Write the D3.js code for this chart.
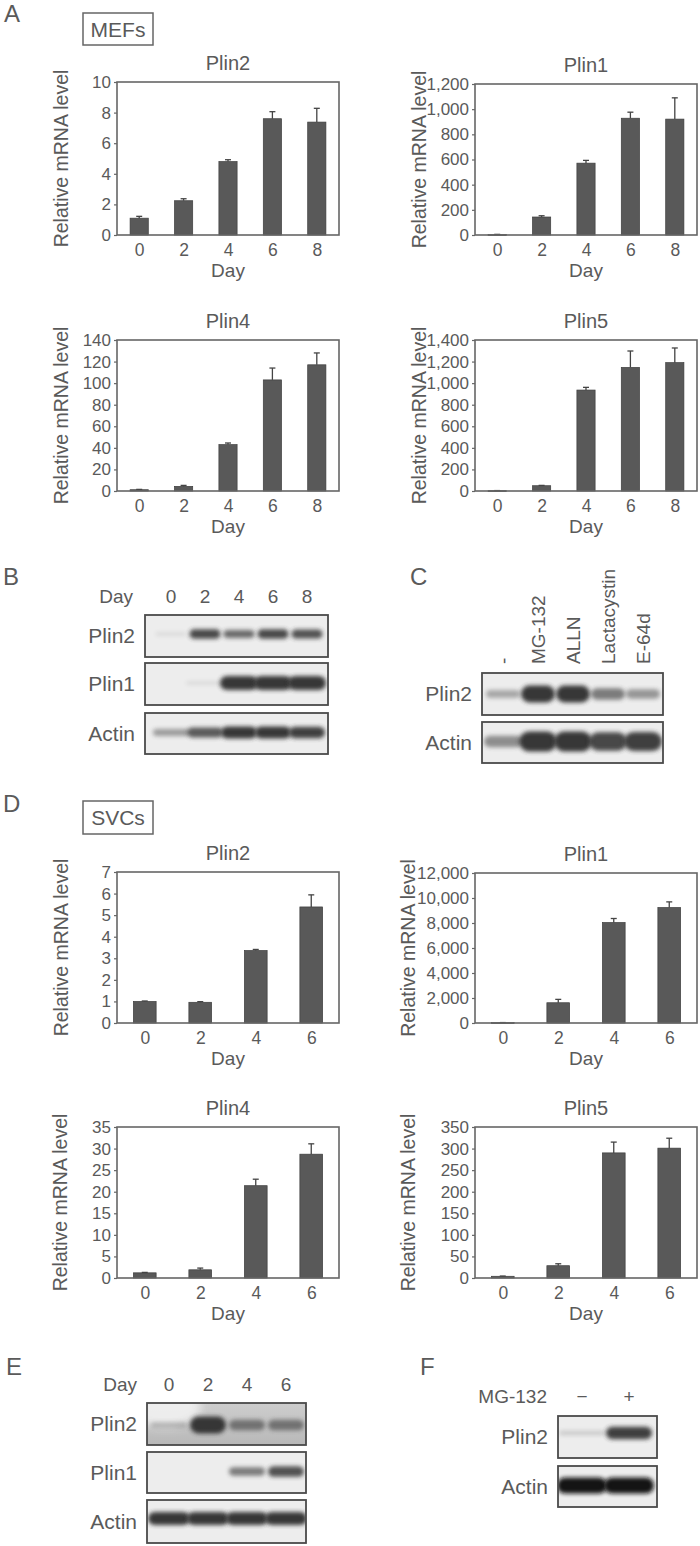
<!DOCTYPE html>
<html><head><meta charset="utf-8">
<script src="https://cdn.jsdelivr.net/npm/d3@7"></script>
<style>
body{margin:0;background:#fff}
svg{display:block}
text{font-family:"Liberation Sans",Arial,Helvetica,sans-serif;fill:#5a5a5a}
</style>
</head><body>
<svg id="fig" width="700" height="1546"></svg>
<script>
// ---------- DATA ----------
const mefDays = ["0","2","4","6","8"];
const svcDays = ["0","2","4","6"];

const mefPlin2 = [1.1, 2.24, 4.8, 7.6, 7.38];
const mefPlin2Err = [0.12, 0.13, 0.12, 0.46, 0.9];
const mefPlin1 = [3, 143, 571, 928, 921];
const mefPlin1Err = [2, 10, 22, 48, 169];
const mefPlin4 = [1.2, 4.3, 43, 103, 117];
const mefPlin4Err = [0.3, 0.9, 1.5, 11, 11];
const mefPlin5 = [3, 49, 936, 1146, 1190];
const mefPlin5Err = [1, 3, 25, 152, 136];

const svcPlin2 = [1.0, 0.96, 3.36, 5.38];
const svcPlin2Err = [0.02, 0.03, 0.05, 0.56];
const svcPlin1 = [30, 1620, 8040, 9240];
const svcPlin1Err = [5, 270, 320, 450];
const svcPlin4 = [1.2, 1.9, 21.4, 28.7];
const svcPlin4Err = [0.1, 0.4, 1.5, 2.4];
const svcPlin5 = [4, 28.5, 290, 301];
const svcPlin5Err = [0.5, 4.5, 25, 23];

const ticksMefPlin2 = [0,2,4,6,8,10];
const ticksMefPlin1 = [0,200,400,600,800,1000,1200];
const ticksMefPlin4 = [0,20,40,60,80,100,120,140];
const ticksMefPlin5 = [0,200,400,600,800,1000,1200,1400];
const ticksSvcPlin2 = [0,1,2,3,4,5,6,7];
const ticksSvcPlin1 = [0,2000,4000,6000,8000,10000,12000];
const ticksSvcPlin4 = [0,5,10,15,20,25,30,35];
const ticksSvcPlin5 = [0,50,100,150,200,250,300,350];

// Western blot band intensities (0 = none, 1 = strongest)
const blotBLanes = ["0","2","4","6","8"];
const blotBPlin2 = [0.06, 0.9, 0.7, 0.9, 0.85];
const blotBPlin1 = [0, 0.06, 1, 1, 1];
const blotBActin = [0.42, 0.8, 1, 1, 0.95];

const blotCLanes = ["-","MG-132","ALLN","Lactacystin","E-64d"];
const blotCPlin2 = [0.35, 1, 1, 0.6, 0.45];
const blotCActin = [0.5, 1, 1, 0.9, 0.95];

const blotELanes = ["0","2","4","6"];
const blotEPlin2 = [0.2, 1, 0.55, 0.55];
const blotEPlin1 = [0, 0, 0.6, 0.85];
const blotEActin = [1, 1, 1, 1];

const blotFLanes = ["\u2212","+"];
const blotFPlin2 = [0.15, 0.95];
const blotFActin = [1, 1];

// ---------- DRAWING ----------
const svg = d3.select("#fig");
const defs = svg.append("defs");
defs.append("filter").attr("id","blur").attr("x","-30%").attr("y","-100%").attr("width","160%").attr("height","300%")
  .append("feGaussianBlur").attr("stdDeviation",2);
defs.append("filter").attr("id","blurBig").attr("x","-50%").attr("y","-100%").attr("width","200%").attr("height","300%")
  .append("feGaussianBlur").attr("stdDeviation",5);

function panelLetter(t, x, y){
  svg.append("text").attr("x",x).attr("y",y).attr("font-size",24).text(t);
}
function cellBox(t, x, y, w, h, by){
  svg.append("rect").attr("x",x).attr("y",y).attr("width",w).attr("height",h)
    .attr("fill","none").attr("stroke","#666").attr("stroke-width",1.5);
  svg.append("text").attr("x",x+w/2).attr("y",by).attr("text-anchor","middle").attr("font-size",21).text(t);
}

function barChart(c){
  const g = svg.append("g");
  const x = d3.scalePoint().domain(c.days).range([c.left, c.left+c.w]).padding(0.5);
  const y = d3.scaleLinear().domain([0, c.ticks[c.ticks.length-1]]).range([c.bottom, c.top]);
  const bw = x.step()*0.41;
  const data = c.days.map((d,i)=>({d, v:c.values[i], e:c.errors[i]}));

  g.selectAll("rect.bar").data(data).join("rect").attr("class","bar")
    .attr("x", d=>x(d.d)-bw/2).attr("y", d=>y(d.v))
    .attr("width", bw).attr("height", d=>Math.max(0.8, y(0)-y(d.v)))
    .attr("fill","#595959").attr("stroke","#3e3e3e").attr("stroke-width",0.7);

  g.selectAll("line.err").data(data).join("line").attr("class","err")
    .attr("x1", d=>x(d.d)).attr("x2", d=>x(d.d))
    .attr("y1", d=>y(d.v)).attr("y2", d=>y(d.v+d.e))
    .attr("stroke","#444").attr("stroke-width",1.3);
  g.selectAll("line.cap").data(data).join("line").attr("class","cap")
    .attr("x1", d=>x(d.d)-3).attr("x2", d=>x(d.d)+3)
    .attr("y1", d=>y(d.v+d.e)).attr("y2", d=>y(d.v+d.e))
    .attr("stroke","#444").attr("stroke-width",1.3);

  const ya = g.append("g").attr("transform",`translate(${c.left},0)`)
    .call(d3.axisLeft(y).tickValues(c.ticks).tickSize(3).tickPadding(3).tickFormat(d3.format(",")));
  ya.select(".domain").remove();
  ya.selectAll("line").attr("stroke","#666").attr("stroke-width",1.2);
  ya.selectAll("text").attr("font-size",17).attr("fill","#5a5a5a").attr("font-family",null);

  const xa = g.append("g").attr("transform",`translate(0,${c.bottom})`)
    .call(d3.axisBottom(x).tickSize(0).tickPadding(9));
  xa.select(".domain").remove();
  xa.selectAll("text").attr("font-size",17.5).attr("fill","#5a5a5a").attr("font-family",null);

  g.append("rect").attr("x",c.left).attr("y",c.top).attr("width",c.w).attr("height",c.bottom-c.top)
    .attr("fill","none").attr("stroke","#666").attr("stroke-width",1.6);

  g.append("text").attr("x",c.left+c.w/2).attr("y",c.top-12).attr("text-anchor","middle")
    .attr("font-size",20).text(c.title);
  g.append("text").attr("x",c.left+c.w/2).attr("y",c.bottom+42).attr("text-anchor","middle")
    .attr("font-size",19).text("Day");
  g.append("text").attr("transform",`translate(${c.left-(c.labelOff||49)},${(c.top+c.bottom)/2}) rotate(-90)`)
    .attr("text-anchor","middle").attr("font-size",19.5).text("Relative mRNA level");
}

function blot(c){
  const g = svg.append("g");
  const x = d3.scalePoint().domain(c.lanes).range(c.laneRange);
  c.rows.forEach(r=>{
    const cy = (r.top+r.bottom)/2 + (r.dy||0);
    const h = d3.scaleLinear().domain([0,1]).range([3, r.maxH]);
    const clipId = "clip"+Math.round(r.top)+"_"+c.x0;
    g.append("clipPath").attr("id",clipId).append("rect")
      .attr("x",c.x0).attr("y",r.top).attr("width",c.x1-c.x0).attr("height",r.bottom-r.top);
    const inner = g.append("g").attr("clip-path",`url(#${clipId})`);
    if (r.grad){
      const id = "grad"+Math.round(r.top);
      const lg = defs.append("linearGradient").attr("id",id).attr("x1",0).attr("y1",0).attr("x2",0).attr("y2",1);
      lg.append("stop").attr("offset","0%").attr("stop-color",r.grad[0]);
      lg.append("stop").attr("offset","100%").attr("stop-color",r.grad[1]);
      inner.append("rect").attr("x",c.x0).attr("y",r.top).attr("width",c.x1-c.x0).attr("height",r.bottom-r.top)
        .attr("fill",`url(#${id})`);
      if (r.light){
        inner.append("ellipse")
          .attr("cx",c.x0+r.light[0]).attr("cy",r.top+r.light[1]).attr("rx",r.light[2]).attr("ry",r.light[3])
          .attr("fill","#f2f2f2").attr("opacity",0.9).attr("filter","url(#blurBig)");
      }
    } else {
      inner.append("rect").attr("x",c.x0).attr("y",r.top).attr("width",c.x1-c.x0).attr("height",r.bottom-r.top)
        .attr("fill",r.bg||"#ededed");
    }
    const bands = c.lanes.map((l,i)=>({l, v:r.values[i]})).filter(d=>d.v>0);
    inner.selectAll(null).data(bands).join("rect")
      .attr("x", d=>x(d.l)-r.bandW/2).attr("width", r.bandW)
      .attr("y", d=>cy-h(d.v)/2).attr("height", d=>h(d.v))
      .attr("rx", d=>h(d.v)/2).attr("ry", d=>h(d.v)/2)
      .attr("fill", r.color||"#333").attr("opacity", d=>Math.min(1, d.v*0.92+0.05))
      .attr("filter","url(#blur)");
    g.append("rect").attr("x",c.x0).attr("y",r.top).attr("width",c.x1-c.x0).attr("height",r.bottom-r.top)
      .attr("fill","none").attr("stroke","#4a4a4a").attr("stroke-width",1.8);
    g.append("text").attr("x",c.x0-10).attr("y",(r.top+r.bottom)/2).attr("dy","0.35em")
      .attr("text-anchor","end").attr("font-size",21).text(r.label);
  });
  if (c.header){
    g.append("text").attr("x",c.header.x).attr("y",c.header.y).attr("text-anchor","end")
      .attr("font-size",19).text(c.header.label);
    g.selectAll(null).data(c.lanes).join("text")
      .attr("x", d=>x(d)).attr("y", c.header.y).attr("text-anchor","middle")
      .attr("font-size",19).text(d=>d);
  }
  if (c.rotated){
    g.selectAll(null).data(c.lanes).join("text")
      .attr("transform", d=>`translate(${x(d)+7},${c.rotated.y}) rotate(-90)`)
      .attr("text-anchor","start").attr("font-size",19).text(d=>d);
  }
}

// Panel A
panelLetter("A", 4, 22);
cellBox("MEFs", 83, 13, 70, 32, 37);
barChart({left:117, top:82, w:222, bottom:235, title:"Plin2", days:mefDays, values:mefPlin2, errors:mefPlin2Err, ticks:ticksMefPlin2});
barChart({left:475, top:84, w:222, bottom:235, title:"Plin1", days:mefDays, values:mefPlin1, errors:mefPlin1Err, ticks:ticksMefPlin1, labelOff:49});
barChart({left:117, top:340, w:222, bottom:491, title:"Plin4", days:mefDays, values:mefPlin4, errors:mefPlin4Err, ticks:ticksMefPlin4});
barChart({left:475, top:340, w:222, bottom:491, title:"Plin5", days:mefDays, values:mefPlin5, errors:mefPlin5Err, ticks:ticksMefPlin5, labelOff:49});

// Panel B
panelLetter("B", 3, 585);
blot({x0:145, x1:328, lanes:blotBLanes, laneRange:[171,307],
  header:{label:"Day", x:133, y:603},
  rows:[
    {label:"Plin2", top:615, bottom:657, dy:-2, values:blotBPlin2, maxH:10, bandW:31},
    {label:"Plin1", top:663, bottom:705, dy:-1, values:blotBPlin1, maxH:14, bandW:38},
    {label:"Actin", top:713, bottom:754, dy:-1, values:blotBActin, maxH:12, bandW:36}
  ]});

// Panel C
panelLetter("C", 410, 585);
blot({x0:482, x1:663, lanes:blotCLanes, laneRange:[503,643],
  rotated:{y:664},
  rows:[
    {label:"Plin2", top:673, bottom:715, dy:0, values:blotCPlin2, maxH:17, bandW:34},
    {label:"Actin", top:722, bottom:763, dy:-1, values:blotCActin, maxH:20, bandW:38}
  ]});

// Panel D
panelLetter("D", 3, 812);
cellBox("SVCs", 83, 801, 70, 33, 825);
barChart({left:117, top:872, w:222, bottom:1023, title:"Plin2", days:svcDays, values:svcPlin2, errors:svcPlin2Err, ticks:ticksSvcPlin2});
barChart({left:475, top:873, w:222, bottom:1023, title:"Plin1", days:svcDays, values:svcPlin1, errors:svcPlin1Err, ticks:ticksSvcPlin1, labelOff:60});
barChart({left:117, top:1127, w:222, bottom:1278, title:"Plin4", days:svcDays, values:svcPlin4, errors:svcPlin4Err, ticks:ticksSvcPlin4, labelOff:50});
barChart({left:475, top:1127, w:222, bottom:1278, title:"Plin5", days:svcDays, values:svcPlin5, errors:svcPlin5Err, ticks:ticksSvcPlin5, labelOff:60});

// Panel E
panelLetter("E", 6, 1375);
blot({x0:147, x1:306, lanes:blotELanes, laneRange:[169,286],
  header:{label:"Day", x:137, y:1391},
  rows:[
    {label:"Plin2", top:1403, bottom:1445, dy:1, values:blotEPlin2, maxH:17, bandW:36,
      grad:["#cdcdcd","#b8b8b8"], light:[18,4,36,20]},
    {label:"Plin1", top:1452, bottom:1493, dy:-1, values:blotEPlin1, maxH:12, bandW:36},
    {label:"Actin", top:1500, bottom:1543, dy:-3, values:blotEActin, maxH:13, bandW:42}
  ]});

// Panel F
panelLetter("F", 420, 1375);
blot({x0:558, x1:657, lanes:blotFLanes, laneRange:[582,629],
  header:{label:"MG-132", x:547, y:1403},
  rows:[
    {label:"Plin2", top:1416, bottom:1458, dy:-4, values:blotFPlin2, maxH:13, bandW:46},
    {label:"Actin", top:1466, bottom:1507, dy:-1, values:blotFActin, maxH:16, bandW:50, color:"#111"}
  ]});
</script>
</body></html>
